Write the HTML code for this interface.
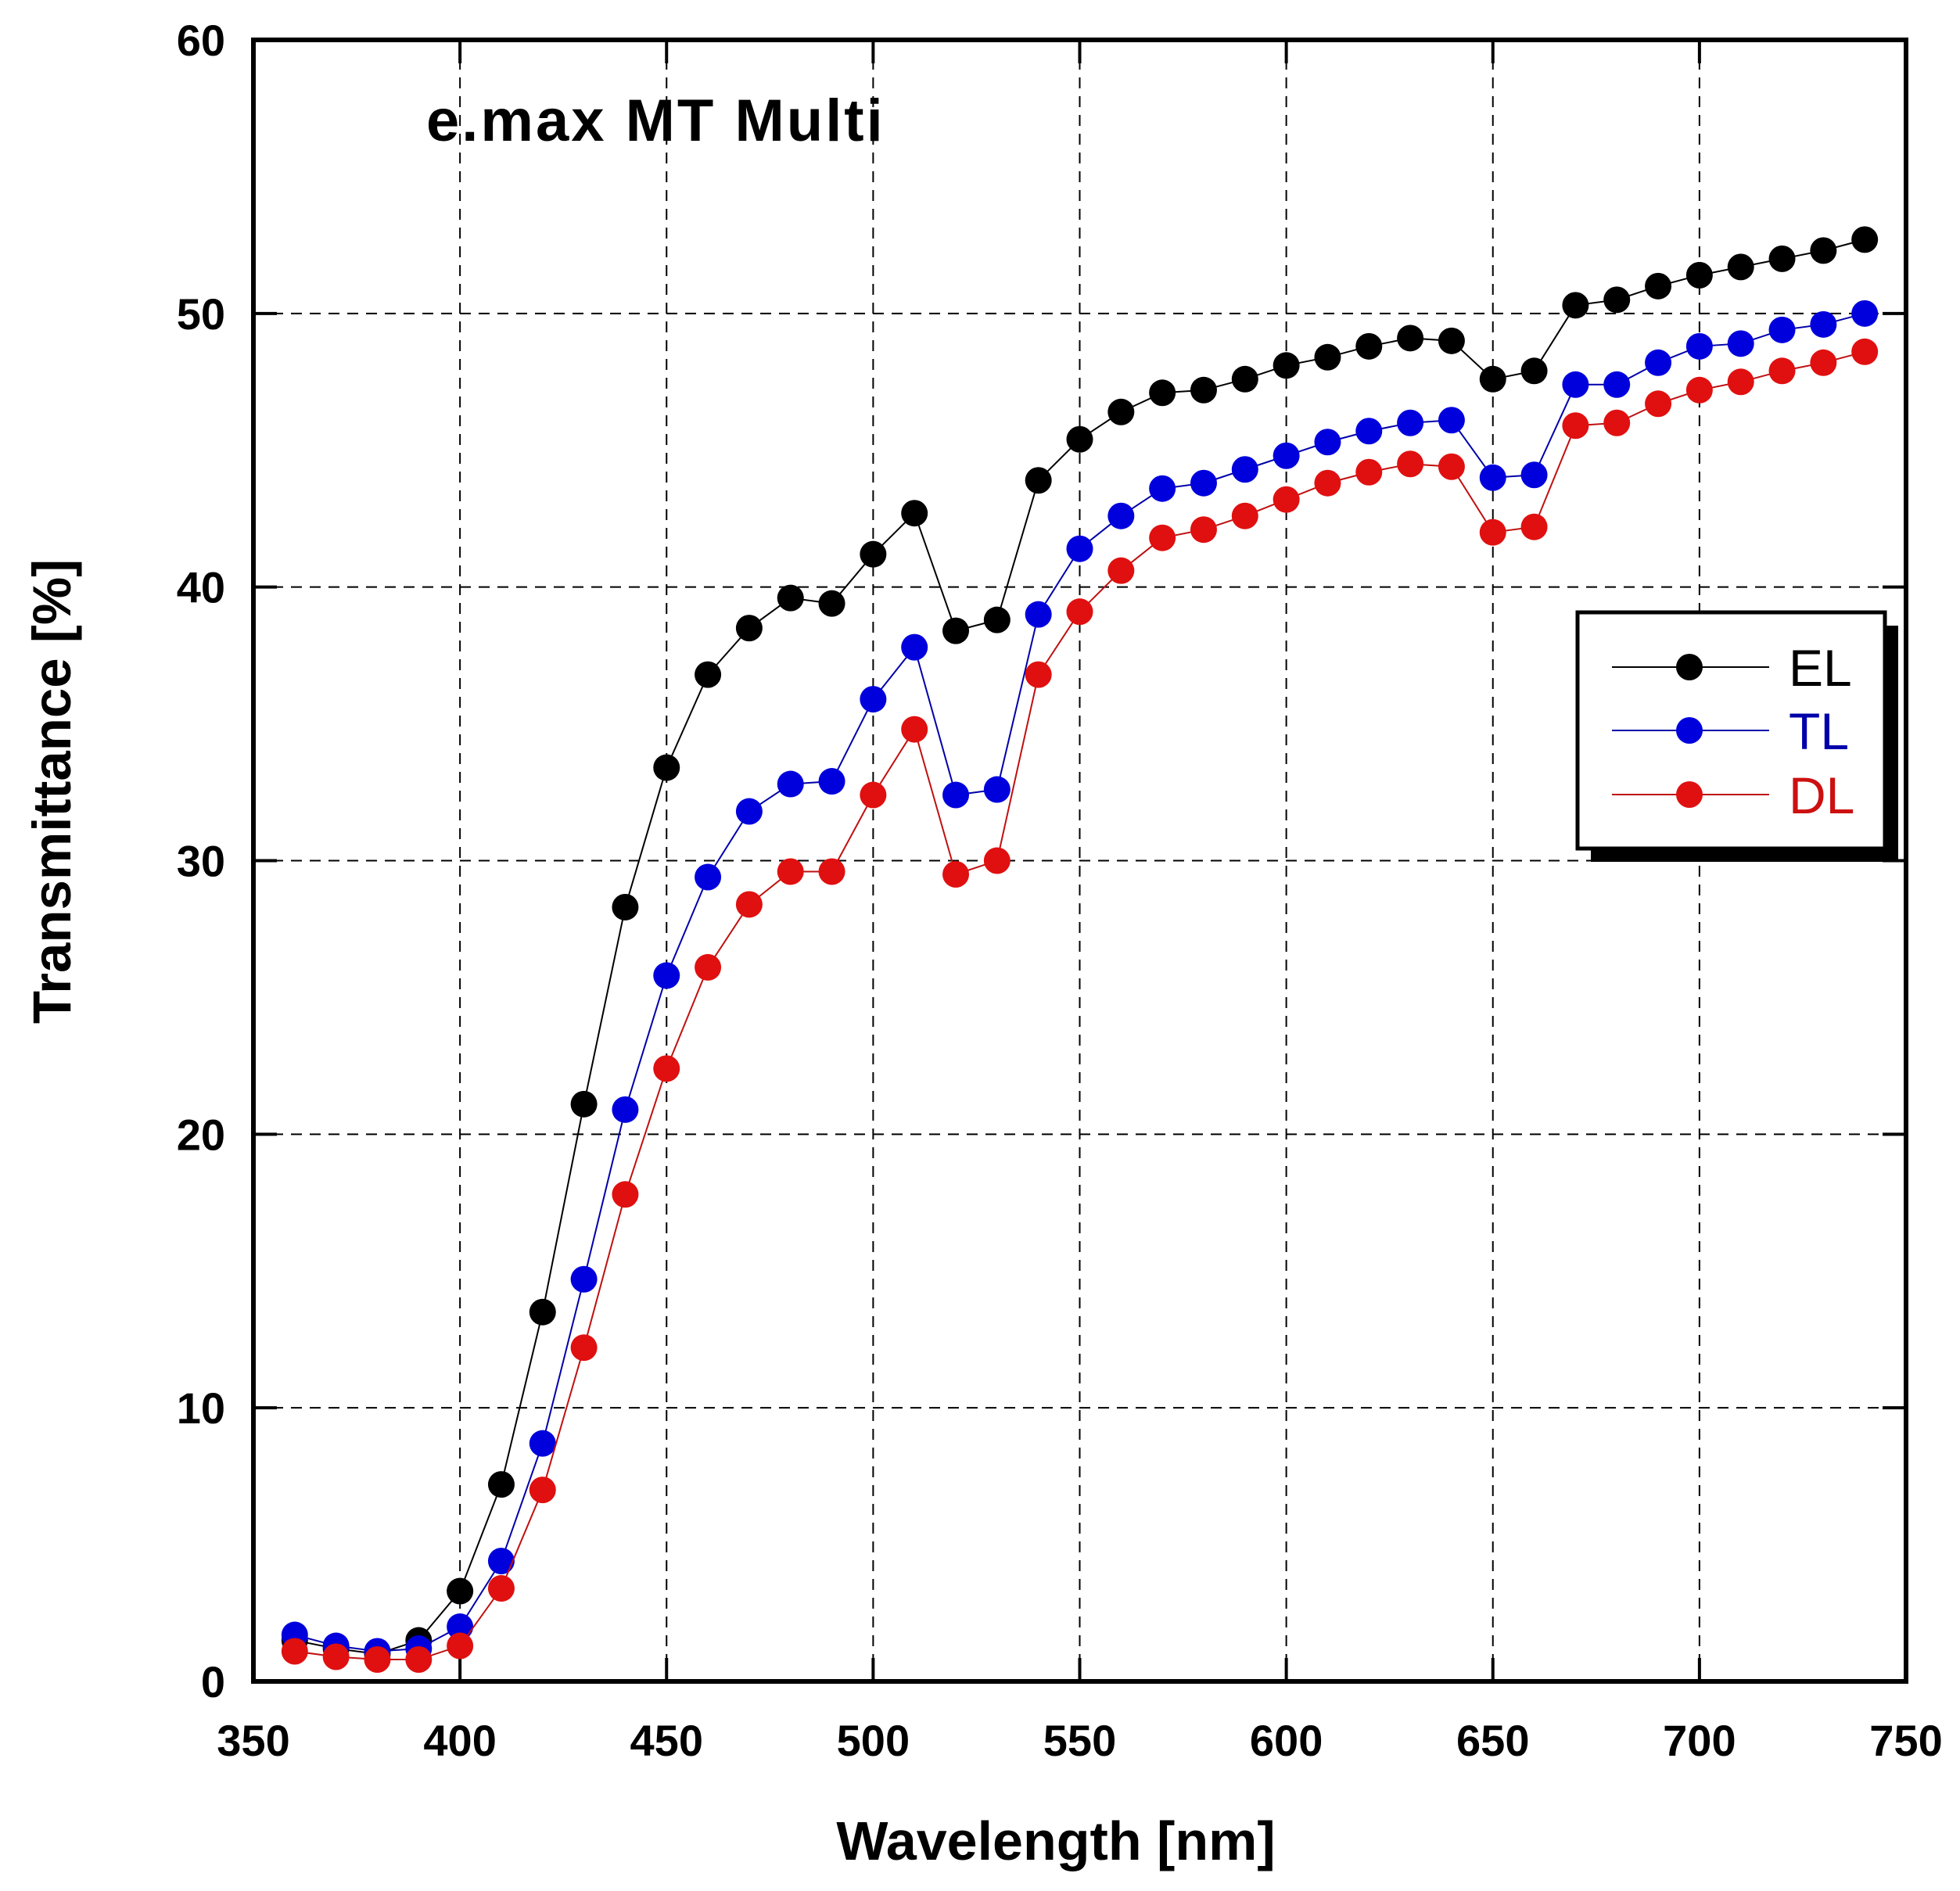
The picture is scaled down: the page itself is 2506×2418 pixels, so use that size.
<!DOCTYPE html>
<html><head><meta charset="utf-8"><style>
html,body{margin:0;padding:0;background:#fff;}
svg{display:block;font-family:"Liberation Sans",Arial,sans-serif;}
</style></head><body>
<svg id="chart" width="2506" height="2418" viewBox="0 0 2506 2418" xmlns="http://www.w3.org/2000/svg">
<rect width="2506" height="2418" fill="#fff"/>
<g id="grid"></g>
<g id="series"></g>
<rect x="324" y="51" width="2113" height="2099" fill="none" stroke="#000" stroke-width="6"/>
<g id="ticks" font-weight="bold" font-size="56"></g>
<text x="545" y="180" font-size="76" font-weight="bold" letter-spacing="3">e.max MT Multi</text>
<text transform="translate(90,1012) rotate(-90)" text-anchor="middle" font-size="69" font-weight="bold">Transmittance [%]</text>
<text x="1350" y="2378" text-anchor="middle" font-size="70" font-weight="bold">Wavelength [nm]</text>
<g>
<polygon points="2034,800 2427,800 2427,1102 2034,1102" fill="#000"/>
<rect x="2017" y="783" width="393" height="302" fill="#fff" stroke="#000" stroke-width="5"/>
<g id="legend-items"></g>
</g>
</svg>
<script>
const wavelengths=[360,370,380,390,400,410,420,430,440,450,460,470,480,490,500,510,520,530,540,550,560,570,580,590,600,610,620,630,640,650,660,670,680,690,700,710,720,730,740];
const elValues=[1.5,1.2,1.0,1.5,3.3,7.2,13.5,21.1,28.3,33.4,36.8,38.5,39.6,39.4,41.2,42.7,38.4,38.8,43.9,45.4,46.4,47.1,47.2,47.6,48.1,48.4,48.8,49.1,49.0,47.6,47.9,50.3,50.5,51.0,51.4,51.7,52.0,52.3,52.7];
const tlValues=[1.7,1.3,1.1,1.2,2.0,4.4,8.7,14.7,20.9,25.8,29.4,31.8,32.8,32.9,35.9,37.8,32.4,32.6,39.0,41.4,42.6,43.6,43.8,44.3,44.8,45.3,45.7,46.0,46.1,44.0,44.1,47.4,47.4,48.2,48.8,48.9,49.4,49.6,50.0];
const dlValues=[1.1,0.9,0.8,0.8,1.3,3.4,7.0,12.2,17.8,22.4,26.1,28.4,29.6,29.6,32.4,34.8,29.5,30.0,36.8,39.1,40.6,41.8,42.1,42.6,43.2,43.8,44.2,44.5,44.4,42.0,42.2,45.9,46.0,46.7,47.2,47.5,47.9,48.2,48.6];
const xTicks=[350,400,450,500,550,600,650,700,750];
const yTicks=[0,10,20,30,40,50,60];
const seriesNames=["EL","TL","DL"];
const seriesColors=["#000000","#0000dd","#e01010"];
const lineColors=["#000000","#0000aa","#c01010"];
const textColors=["#000000","#0000aa","#cc1010"];

const NS="http://www.w3.org/2000/svg";
const X0=324,X1=2437,Y0=2150,Y1=51;
const xs=v=>X0+(v-350)/(750-350)*(X1-X0);
const ys=v=>Y0-(v-0)/(60-0)*(Y0-Y1);
function mk(tag,attrs,parent){const e=document.createElementNS(NS,tag);for(const k in attrs)e.setAttribute(k,attrs[k]);parent.appendChild(e);return e;}
const grid=document.getElementById('grid');
xTicks.forEach(t=>{
  if(t>350&&t<750){
    const l=mk('line',{x1:xs(t),x2:xs(t),y1:Y1,y2:Y0,stroke:'#000','stroke-width':2,'stroke-dasharray':'14,10'},grid);
    
    
    mk('line',{x1:xs(t),x2:xs(t),y1:Y1,y2:Y1+30,stroke:'#000','stroke-width':4},grid);
    mk('line',{x1:xs(t),x2:xs(t),y1:Y0,y2:Y0-30,stroke:'#000','stroke-width':4},grid);
  }
});
yTicks.forEach(t=>{
  if(t>0&&t<60){
    const l=mk('line',{x1:X0,x2:X1,y1:ys(t),y2:ys(t),stroke:'#000','stroke-width':2,'stroke-dasharray':'14,10'},grid);
    
    
    mk('line',{x1:X0,x2:X0+30,y1:ys(t),y2:ys(t),stroke:'#000','stroke-width':4},grid);
    mk('line',{x1:X1,x2:X1-30,y1:ys(t),y2:ys(t),stroke:'#000','stroke-width':4},grid);
  }
});
const ticks=document.getElementById('ticks');
xTicks.forEach(t=>{
  const e=mk('text',{x:xs(t),y:2245,'text-anchor':'middle'},ticks);
  
  
  e.textContent=t;
});
yTicks.forEach(t=>{
  const e=mk('text',{x:288,y:ys(t)+20,'text-anchor':'end'},ticks);
  
  
  e.textContent=t;
});
const sg=document.getElementById('series');
[elValues,tlValues,dlValues].forEach((vals,i)=>{
  const g=mk('g',{},sg);
  
  
  const pts=wavelengths.map((w,j)=>xs(w)+','+ys(vals[j])).join(' ');
  const pl=mk('polyline',{points:pts,fill:'none',stroke:lineColors[i],'stroke-width':2},g);
  
  
  wavelengths.forEach((w,j)=>{
    const c=mk('circle',{cx:xs(w),cy:ys(vals[j]),r:17,fill:seriesColors[i]},g);
    
    
  });
});
const li=document.getElementById('legend-items');
const ly=[853,934,1016];
seriesNames.forEach((n,i)=>{
  const g=mk('g',{},li);
  
  
  mk('line',{x1:2061,x2:2262,y1:ly[i],y2:ly[i],stroke:lineColors[i],'stroke-width':2},g);
  mk('circle',{cx:2160,cy:ly[i],r:17,fill:seriesColors[i]},g);
  const t=mk('text',{x:2287,y:ly[i]+24,'font-size':66,fill:textColors[i]},g);
  t.textContent=n;
});
</script>
</body></html>
